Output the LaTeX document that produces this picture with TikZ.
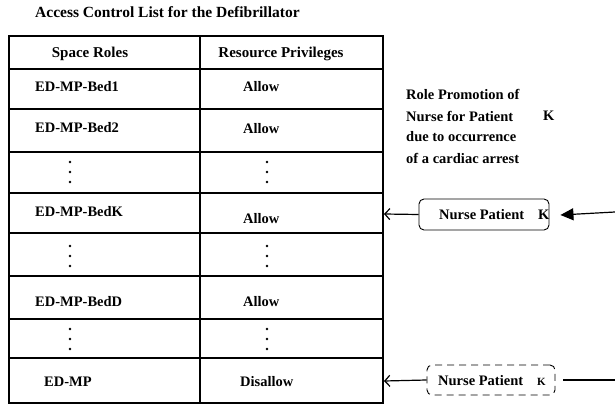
\documentclass[tikz,border=0pt]{standalone}
\usepackage{fontspec}
\setmainfont{Liberation Serif}
\usetikzlibrary{arrows.meta}
\begin{document}
\begin{tikzpicture}[x=1pt,y=-1pt,
  txt/.style={font=\bfseries\fontsize{14.5}{16}\selectfont, inner sep=0pt, anchor=west},
  ctxt/.style={font=\bfseries\fontsize{15}{16}\selectfont, inner sep=0pt},
  grid/.style={line width=1.2pt},
  dot/.style={fill=black},
  nbox/.style={draw, rounded corners=5pt, line width=0.9pt, minimum width=130pt, minimum height=31pt, inner sep=0pt},
  conn/.style={line width=1.2pt}
]
\useasboundingbox (0,0) rectangle (615,406);
% title
\node[txt, font=\bfseries\fontsize{15.5}{17}\selectfont] (title) at (35,12) {Access Control List for the Defibrillator};
% table
\draw[grid] (9,36) rectangle (383,403);
\draw[grid] (200,36) -- (200,403);
\foreach \yy in {69,109,152,193,233,276,319,358} \draw[grid] (9,\yy) -- (383,\yy);
\node[ctxt] (h1) at (90,54) {Space Roles};
\node[ctxt] (h2) at (281,54) {Resource Privileges};
\node[txt] (r1) at (35,87) {ED-MP-Bed1};
\node[txt] (a1) at (243,87) {Allow};
\node[txt] (r2) at (35,128) {ED-MP-Bed2};
\node[txt] (a2) at (243,129) {Allow};
\node[txt] (rk) at (35,212) {ED-MP-BedK};
\node[txt] (ak) at (243,219) {Allow};
\node[txt] (rd) at (35,302) {ED-MP-BedD};
\node[txt] (ad) at (243,302) {Allow};
\node[txt] (rm) at (44,382) {ED-MP};
\node[txt] (am) at (240,382) {Disallow};
% vertical ellipses
\foreach \cx in {70,267}{
  \foreach \cy in {162,172,182, 246,256,266, 329,339,349}
    \fill[dot] (\cx,\cy) circle (1.3pt);
}
% explanation
\node[txt] (p1) at (406,94) {Role Promotion of};
\node[txt] (p2) at (406,116) {Nurse for Patient};
\node[txt] (p2k) at (543,116) {K};
\node[txt] (p3) at (406,137) {due to occurrence};
\node[txt] (p4) at (406,158) {of a cardiac arrest};
% boxes
\node[nbox] (nk) at (484,214.5) {};
\node[txt] (nkt) at (439,215) {Nurse Patient};
\node[txt] (nkk) at (538,215) {K};
\node[nbox, dashed, dash pattern=on 7pt off 5pt, minimum width=128pt, minimum height=30pt] (nd) at (491,380) {};
\node[txt] (ndt) at (438,381) {Nurse Patient};
\node[txt, font=\bfseries\fontsize{11}{12}\selectfont] (ndk) at (537,382) {K};
\coordinate (tk) at (384,214);
\coordinate (tm) at (384,381);
\coordinate (ek) at (615,212);
\coordinate (em) at (615,380);
\draw[conn, -{Straight Barb[length=5pt,width=11pt]}] (nk.west) -- (tk);
\draw[conn, -{Straight Barb[length=5pt,width=11pt]}] (nd.west) -- (tm);
\draw[conn, -{Triangle[length=13pt,width=12pt]}] (ek) -- ([xshift=11pt,yshift=-0.5pt]nk.east);
\draw[conn] (em) -- ([xshift=8pt]nd.east);
\end{tikzpicture}
\end{document}
